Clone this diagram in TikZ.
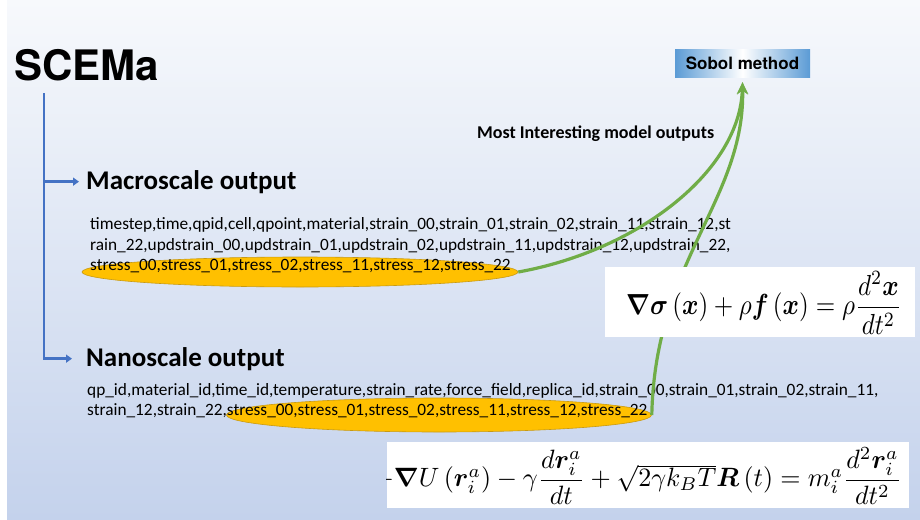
\documentclass[tikz,border=0pt]{standalone}
\usepackage{amsmath,bm}
\usepackage{graphicx}
\usepackage{fontspec}
\setmainfont{Carlito}
\newfontfamily\heros{TeX Gyre Heros}
\usetikzlibrary{shapes.geometric,arrows.meta}

\definecolor{bgtop}{HTML}{F7F9FC}
\definecolor{bgmid}{HTML}{B4C6E7}
\definecolor{bgbot}{HTML}{C4D2EC}
\definecolor{treeblue}{HTML}{4472C4}
\definecolor{linkgreen}{HTML}{70AD47}
\definecolor{hiliteorange}{HTML}{FFC000}
\definecolor{hiliteedge}{HTML}{C99A10}
\definecolor{sobolblue}{HTML}{5B9BD5}

\tikzset{
  branch/.style={draw=treeblue, line width=2.8pt, -{Triangle[length=6pt,width=8pt]}},
  heading/.style={anchor=base west, inner sep=0pt, font=\fontsize{27}{31}\selectfont\bfseries},
  dataline/.style={anchor=base west, inner sep=0pt, font=\fontsize{17.3}{20}\selectfont},
  hilite/.style={ellipse, fill=hiliteorange, draw=hiliteedge, line width=0.6pt, inner sep=0pt},
  link/.style={draw=linkgreen, line width=3.2pt, -{Stealth[length=12pt,width=11pt]}},
  eqbox/.style={fill=white, inner sep=0pt},
  eqtext/.style={anchor=east, inner sep=0pt, font=\fontsize{10}{12}\selectfont}
}

\begin{document}
\begin{tikzpicture}[x=1pt, y=-1pt]
\useasboundingbox (0,0) rectangle (920,519);
\fill[white] (0,0) rectangle (920,519);
\shade[top color=bgtop, middle color=bgmid, bottom color=bgbot] (7,0) rectangle (920,519);

\node[anchor=base west, inner sep=0pt, font=\heros\fontsize{42}{46}\selectfont\bfseries] (scema) at (14,80) {SCEMa};

\node[heading] (macro) at (86,189) {Macroscale output};
\node[heading] (nano) at (86,366) {Nanoscale output};

% highlighted stress columns
\node[hilite, minimum width=436, minimum height=30] (macrostress) at (300,272) {};
\node[hilite, minimum width=425, minimum height=34] (nanostress) at (439,415) {};

\node[dataline] (macroone) at (90,229) {timestep,time,qpid,cell,qpoint,material,strain\_00,strain\_01,strain\_02,strain\_11,strain\_12,st};
\node[dataline] (macrotwo) at (90,250) {rain\_22,updstrain\_00,updstrain\_01,updstrain\_02,updstrain\_11,updstrain\_12,updstrain\_22,};
\node[dataline] (macrothree) at (90,270) {stress\_00,stress\_01,stress\_02,stress\_11,stress\_12,stress\_22};

\node[dataline] (nanoone) at (87,395) {qp\_id,material\_id,time\_id,temperature,strain\_rate,force\_field,replica\_id,strain\_00,strain\_01,strain\_02,strain\_11,};
\node[dataline] (nanotwo) at (87,415) {strain\_12,strain\_22,stress\_00,stress\_01,stress\_02,stress\_11,stress\_12,stress\_22};

\coordinate (trunk) at (44,93);
\draw[branch, shorten >=7pt] (trunk) |- (macro.west);
\draw[branch, shorten >=14pt] (trunk) |- (nano.west);

\node[draw=none, left color=sobolblue, right color=sobolblue, middle color=white, minimum width=135, minimum height=27, inner sep=0pt, font=\heros\fontsize{17}{20}\selectfont\bfseries] (sobol) at (742.5,63.5) {Sobol method};
\coordinate (tip) at ([yshift=-5pt]sobol.south);

\node[anchor=base west, inner sep=0pt, font=\fontsize{18}{21}\selectfont\bfseries] (interesting) at (477,138) {Most Interesting model outputs};

\draw[link] (macrostress.east) .. controls (640,250) and (740,170) .. (tip);
\draw[link] (nanostress.east) .. controls (655,260) and (745,200) .. (tip);

\node[eqbox, minimum width=310, minimum height=70] (eqmacro) at (760,302) {};
\node[eqtext] (eqmacrotext) at (902,303) {\scalebox{2.5}[2.9]{$\boldsymbol\nabla\boldsymbol\sigma\left(\boldsymbol x\right)+\rho\boldsymbol f\left(\boldsymbol x\right)=\rho\dfrac{d^2\boldsymbol x}{dt^2}$}};

\node[eqbox, minimum width=522, minimum height=66] (eqnano) at (648,475) {};
\begin{scope}
  \clip (eqnano.south west) rectangle (eqnano.north east);
  \node[eqtext] (eqnanotext) at (902,476) {\scalebox{2.6}[2.65]{$-\boldsymbol\nabla U\left(\boldsymbol r_i^a\right)-\gamma\dfrac{d\boldsymbol r_i^a}{dt}+\sqrt{2\gamma k_BT}\boldsymbol R\left(t\right)=m_i^a\dfrac{d^2\boldsymbol r_i^a}{dt^2}$}};
\end{scope}
\end{tikzpicture}
\end{document}
